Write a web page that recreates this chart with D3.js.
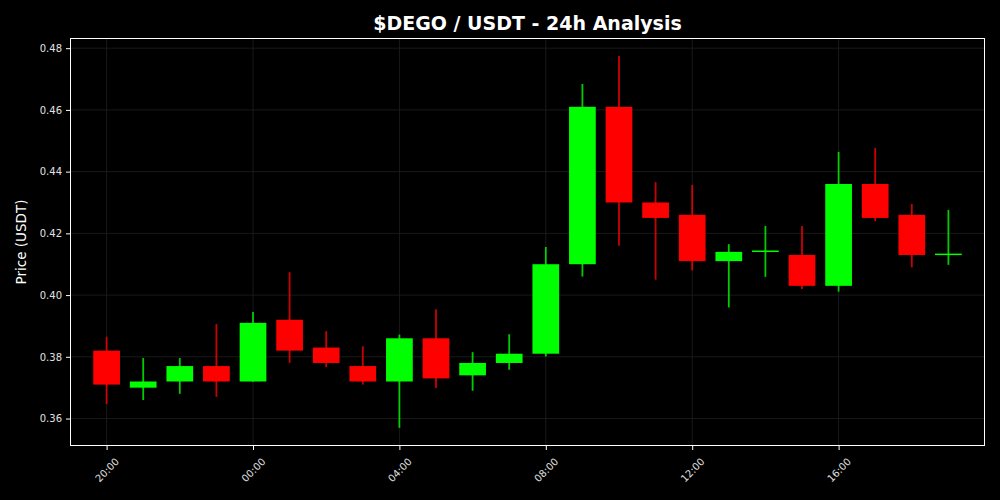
<!DOCTYPE html>
<html>
<head>
<meta charset="utf-8">
<script src="https://cdn.jsdelivr.net/npm/d3@7"></script>
<style>
  html, body { margin: 0; padding: 0; background: #000; }
  svg { display: block; }
</style>
</head>
<body>
<svg id="chart" width="1000" height="500"></svg>
<script>
// Hourly candles, starting 20:00 (day 0) through 19:00 (day 1)
const hours  = [20,21,22,23,0,1,2,3,4,5,6,7,8,9,10,11,12,13,14,15,16,17,18,19];
const opens  = [0.382,0.370,0.372,0.377,0.372,0.392,0.383,0.377,0.372,0.386,0.374,0.378,0.381,0.410,0.461,0.430,0.426,0.411,0.4140,0.413,0.403,0.436,0.426,0.4130];
const highs  = [0.3865,0.3796,0.3796,0.3906,0.3945,0.4074,0.3883,0.3834,0.3872,0.3954,0.3815,0.3873,0.4156,0.4684,0.4775,0.4366,0.4357,0.4165,0.4224,0.4224,0.4464,0.4477,0.4295,0.4276];
const lows   = [0.3647,0.3660,0.3680,0.3670,0.3719,0.3780,0.3767,0.3710,0.3570,0.3699,0.3690,0.3758,0.3801,0.4060,0.4160,0.4050,0.4080,0.3960,0.4059,0.4020,0.4011,0.4240,0.4090,0.4098];
const closes = [0.371,0.372,0.377,0.372,0.391,0.382,0.378,0.372,0.386,0.373,0.378,0.381,0.410,0.461,0.430,0.425,0.411,0.414,0.4142,0.403,0.436,0.425,0.413,0.4132];
const yTicks = [0.36,0.38,0.40,0.42,0.44,0.46,0.48];
const xTickLabels = ["20:00","00:00","04:00","08:00","12:00","16:00"];

const base = new Date(2024, 0, 1, 20, 0, 0);
const times = hours.map((h, i) => new Date(base.getTime() + i * 3600e3));
const candles = times.map((t, i) => ({ t, o: opens[i], h: highs[i], l: lows[i], c: closes[i] }));

const W = 1000, H = 500;
const m = { left: 70, right: 15, top: 38, bottom: 54 };
const svg = d3.select("#chart");
svg.append("rect").attr("width", W).attr("height", H).attr("fill", "#000");

const x = d3.scaleTime()
  .domain([new Date(times[0].getTime() - 3600e3), new Date(times[times.length - 1].getTime() + 3600e3)])
  .range([m.left, W - m.right]);
const y = d3.scaleLinear()
  .domain([0.3511, 0.4833])
  .range([H - m.bottom, m.top]);

const tickTimes = xTickLabels.map(lbl => {
  const hh = +lbl.split(":")[0];
  return times[hours.indexOf(hh)];
});

// grid
const grid = svg.append("g");
grid.selectAll("line.h").data(yTicks).join("line")
  .attr("x1", m.left).attr("x2", W - m.right)
  .attr("y1", d => y(d)).attr("y2", d => y(d))
  .attr("stroke", "#1f1f1f").attr("stroke-width", 0.8);
grid.selectAll("line.v").data(tickTimes).join("line")
  .attr("y1", m.top).attr("y2", H - m.bottom)
  .attr("x1", d => x(d)).attr("x2", d => x(d))
  .attr("stroke", "#1f1f1f").attr("stroke-width", 0.8);

// candles
const hourW = x(times[1]) - x(times[0]);
const bw = hourW * 0.73;
const up = "#00ff00", down = "#ff0000";
const g = svg.append("g");
g.selectAll("line.wick").data(candles).join("line")
  .attr("x1", d => x(d.t)).attr("x2", d => x(d.t))
  .attr("y1", d => y(d.h)).attr("y2", d => y(d.l))
  .attr("stroke", d => d.c >= d.o ? up : down)
  .attr("stroke-opacity", 0.8)
  .attr("stroke-width", 1.8);
g.selectAll("rect.body").data(candles).join("rect")
  .attr("x", d => x(d.t) - bw / 2)
  .attr("width", bw)
  .attr("y", d => Math.min(y(d.o), y(d.c)) - (Math.abs(y(d.o) - y(d.c)) < 1.5 ? 0.75 : 0))
  .attr("height", d => Math.max(1.5, Math.abs(y(d.o) - y(d.c))))
  .attr("fill", d => d.c >= d.o ? up : down);

// frame
svg.append("rect")
  .attr("x", m.left + 0.5).attr("y", m.top + 0.5)
  .attr("width", W - m.left - m.right - 1).attr("height", H - m.top - m.bottom - 1)
  .attr("fill", "none").attr("stroke", "#fff").attr("stroke-width", 1);

// y axis
const yAxis = svg.append("g").attr("transform", `translate(${m.left},0)`)
  .call(d3.axisLeft(y).tickValues(yTicks).tickFormat(d3.format(".2f")).tickSize(4).tickPadding(4));
yAxis.select(".domain").remove();
yAxis.selectAll(".tick line").attr("stroke", "#fff");
yAxis.selectAll(".tick text").attr("fill", "#e0e0e0")
  .style("font-family", "DejaVu Sans").style("font-size", "10px");

// x axis
const xAxis = svg.append("g").attr("transform", `translate(0,${H - m.bottom})`)
  .call(d3.axisBottom(x).tickValues(tickTimes).tickFormat((d, i) => xTickLabels[i]).tickSize(4));
xAxis.select(".domain").remove();
xAxis.selectAll(".tick line").attr("stroke", "#fff");
xAxis.selectAll(".tick text")
  .attr("fill", "#e0e0e0")
  .style("font-family", "DejaVu Sans").style("font-size", "10px")
  .attr("text-anchor", "middle")
  .attr("dominant-baseline", "central")
  .attr("y", 24).attr("dy", null)
  .attr("transform", "rotate(-45 0 24)");

// labels
svg.append("text")
  .attr("x", (m.left + W - m.right) / 2).attr("y", 30)
  .attr("text-anchor", "middle")
  .attr("fill", "#fff")
  .style("font-family", "DejaVu Sans").style("font-size", "19px").style("font-weight", "bold")
  .text("$DEGO / USDT - 24h Analysis");

svg.append("text")
  .attr("transform", `translate(26,${(m.top + H - m.bottom) / 2}) rotate(-90)`)
  .attr("text-anchor", "middle")
  .attr("fill", "#fff")
  .style("font-family", "DejaVu Sans").style("font-size", "13.5px")
  .text("Price (USDT)");
</script>
</body>
</html>
